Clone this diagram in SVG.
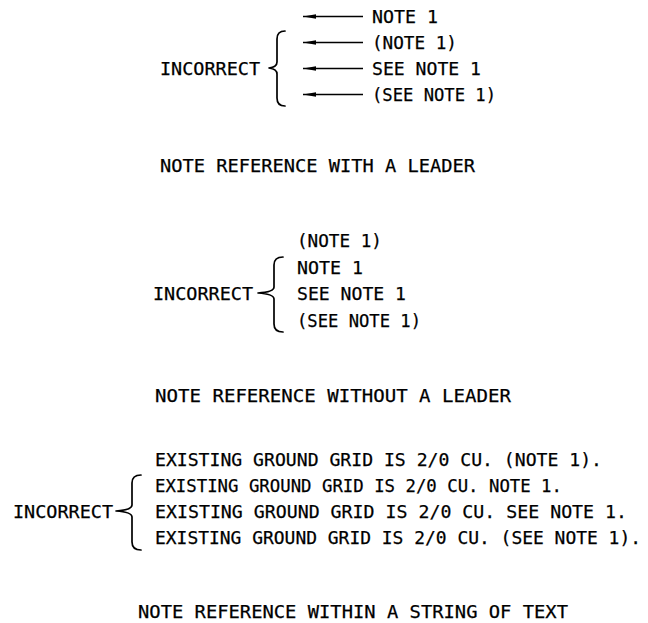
<svg xmlns="http://www.w3.org/2000/svg" width="648" height="623" viewBox="0 0 648 623">
<style>
text{font-family:"DejaVu Sans Mono","Liberation Mono",monospace;font-size:18.3px;fill:#000;stroke:#000;stroke-width:0.25}
.br{fill:none;stroke:#000;stroke-width:1.7;stroke-linecap:round;stroke-linejoin:round}
.ld{stroke:#000;stroke-width:1.6}
</style>
<defs>
<marker id="ah" markerWidth="14" markerHeight="6" refX="0" refY="3" orient="auto" markerUnits="userSpaceOnUse">
<polygon points="0,3 13,0.8 13,5.2" fill="#000"/>
</marker>
</defs>
<rect width="648" height="623" fill="#fff"/>
<g id="sec1">
<text x="160" y="75" textLength="100" lengthAdjust="spacingAndGlyphs">INCORRECT</text>
<path class="br" d="M285,31 Q277,31 277,39 L277,62 Q277,67 269,68 Q277,69 277,74 L277,98 Q277,106 285,106"/>
<text x="372" y="23" textLength="66" lengthAdjust="spacingAndGlyphs">NOTE 1</text>
<text x="372" y="49" textLength="85" lengthAdjust="spacingAndGlyphs">(NOTE 1)</text>
<text x="372" y="75" textLength="109" lengthAdjust="spacingAndGlyphs">SEE NOTE 1</text>
<text x="372" y="101" textLength="124" lengthAdjust="spacingAndGlyphs">(SEE NOTE 1)</text>
<text x="160" y="172" textLength="315" lengthAdjust="spacingAndGlyphs">NOTE REFERENCE WITH A LEADER</text>
</g>
<g id="connectors">
<line class="ld" x1="303" y1="16.5" x2="363" y2="16.5" marker-start="url(#ah)"/>
<line class="ld" x1="303" y1="42.5" x2="363" y2="42.5" marker-start="url(#ah)"/>
<line class="ld" x1="303" y1="68.5" x2="363" y2="68.5" marker-start="url(#ah)"/>
<line class="ld" x1="303" y1="94.5" x2="363" y2="94.5" marker-start="url(#ah)"/>
</g>
<g id="sec2">
<text x="153" y="300" textLength="100" lengthAdjust="spacingAndGlyphs">INCORRECT</text>
<path class="br" d="M283,257 Q274,257 274,265 L274,287 Q274,292 258,293 Q274,294 274,299 L274,324 Q274,332 283,332"/>
<text x="297" y="247" textLength="85" lengthAdjust="spacingAndGlyphs">(NOTE 1)</text>
<text x="297" y="274" textLength="66" lengthAdjust="spacingAndGlyphs">NOTE 1</text>
<text x="297" y="300" textLength="109" lengthAdjust="spacingAndGlyphs">SEE NOTE 1</text>
<text x="297" y="327" textLength="124" lengthAdjust="spacingAndGlyphs">(SEE NOTE 1)</text>
<text x="155" y="402" textLength="356" lengthAdjust="spacingAndGlyphs">NOTE REFERENCE WITHOUT A LEADER</text>
</g>
<g id="sec3">
<text x="13" y="518" textLength="100" lengthAdjust="spacingAndGlyphs">INCORRECT</text>
<path class="br" d="M141,475 Q132,475 132,483 L132,505 Q132,510 116,511 Q132,512 132,517 L132,542 Q132,550 141,550"/>
<text x="155" y="466" textLength="447" lengthAdjust="spacingAndGlyphs">EXISTING GROUND GRID IS 2/0 CU. (NOTE 1).</text>
<text x="155" y="492" textLength="407" lengthAdjust="spacingAndGlyphs">EXISTING GROUND GRID IS 2/0 CU. NOTE 1.</text>
<text x="155" y="518" textLength="472" lengthAdjust="spacingAndGlyphs">EXISTING GROUND GRID IS 2/0 CU. SEE NOTE 1.</text>
<text x="155" y="544" style="font-size:17.9px" textLength="486" lengthAdjust="spacingAndGlyphs">EXISTING GROUND GRID IS 2/0 CU. (SEE NOTE 1).</text>
<text x="138" y="618" textLength="430" lengthAdjust="spacingAndGlyphs">NOTE REFERENCE WITHIN A STRING OF TEXT</text>
</g>
</svg>
